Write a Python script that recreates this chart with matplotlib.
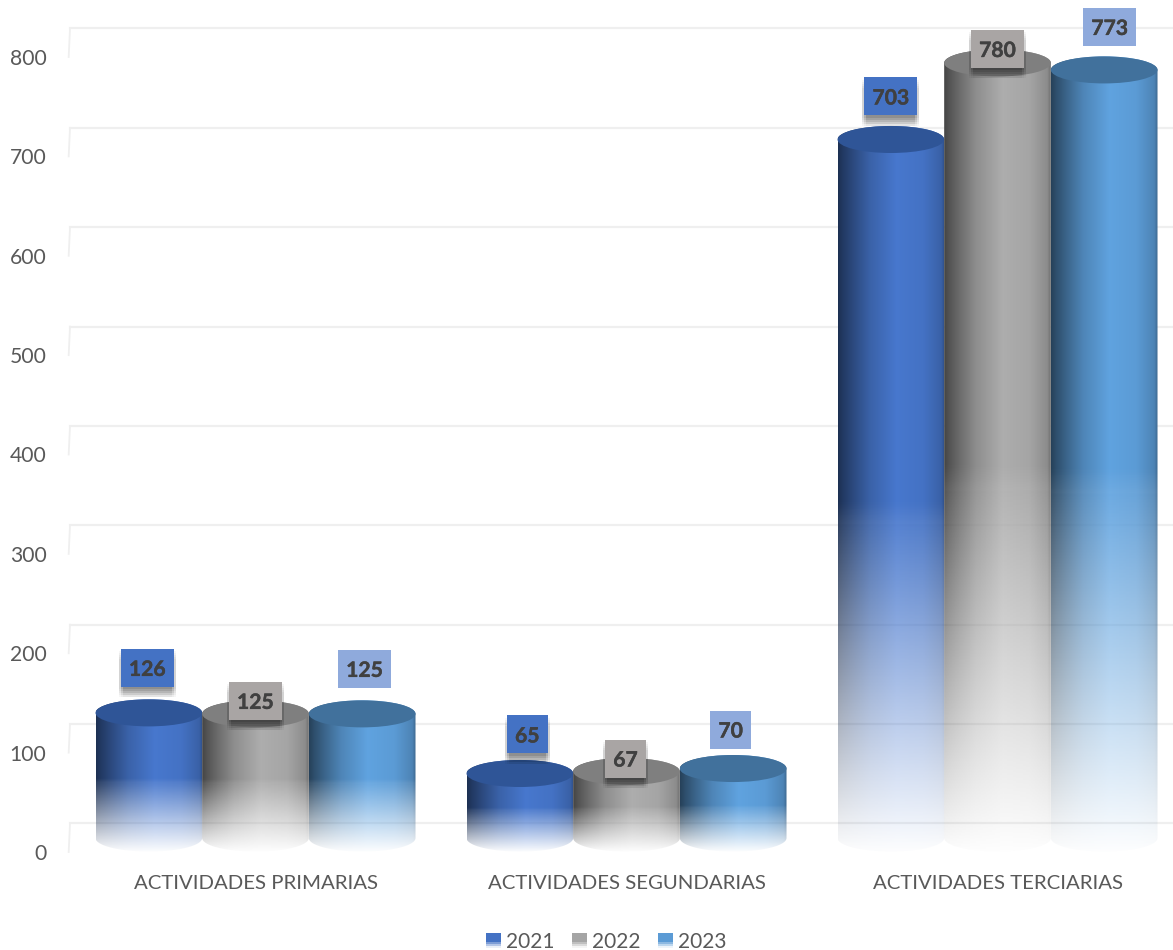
import numpy as np
import matplotlib
matplotlib.use("Agg")
import matplotlib.pyplot as plt
import matplotlib.patheffects as pe
from matplotlib.colors import to_rgb
from matplotlib.legend_handler import HandlerBase
from matplotlib.patches import Ellipse, PathPatch, Rectangle
from matplotlib.path import Path

plt.rcParams["font.family"] = ["Lato", "DejaVu Sans"]

categories = ["ACTIVIDADES PRIMARIAS", "ACTIVIDADES SEGUNDARIAS", "ACTIVIDADES TERCIARIAS"]
years = ["2021", "2022", "2023"]
values_2021 = [126, 65, 703]
values_2022 = [125, 67, 780]
values_2023 = [125, 70, 773]
y_ticks = [0, 100, 200, 300, 400, 500, 600, 700, 800]

# styling
side_colors = ["#4472C4", "#A5A5A5", "#5B9BD5"]
top_colors = ["#2F5597", "#7F7F7F", "#41719C"]
label_colors = ["#4472C4", "#A9A5A4", "#8FAADC"]
# hand placed labels, pixels from the top of each bar (dx, dy), per series
label_nudges = [
    [(-1.5, 45), (7.5, 39), (0, 43)],
    [(0, 13), (-1, 13), (0, 14)],
    [(2.5, 45), (-2.5, 39), (5.5, 43)],
]

W, H = 1173, 950
PX = 0.99375        # pixels per unit on y
GROUP_PX = 371      # pixels per category on x
FLOOR = 14          # cylinders stand this far above the zero line
WALL = 28.7         # gridlines sit this far above their tick
MINOR = 13.6        # half height of the cylinder ellipses
BAR_W = 0.2875

fig = plt.figure(figsize=(W / 100, H / 100), dpi=100)
ax = fig.add_axes([70 / W, (H - 852) / H, (W - 70) / W, 852 / H])
ax.set_xlim(-0.5, 2.473)
ax.set_ylim(0, 852 / PX)


def side_gradient(color):
    # dark on the left, lit a bit right of the middle
    xs = np.linspace(0, 1, 128)
    shade = np.interp(xs, [0, .04, .15, .3, .55, .8, .97, 1],
                      [.42, .5, .66, .86, 1.05, 1, .85, .68])
    return np.clip(np.outer(shade, to_rgb(color)), 0, 1)


def draw_cylinder(x, value, color, top_color, z):
    left, right = x - BAR_W / 2, x + BAR_W / 2
    top = value + FLOOR
    t = np.linspace(np.pi, 0, 50)
    up_x = x + BAR_W / 2 * np.cos(t)
    up_y = top + MINOR * np.sin(t)
    low_x = up_x[::-1]
    low_y = FLOOR - MINOR * np.sin(t)
    outline = np.column_stack([np.r_[up_x, low_x], np.r_[up_y, low_y]])
    clip = PathPatch(Path(outline), transform=ax.transData, fc="none", ec="none")
    ax.add_patch(clip)

    # rgba picture: colour goes across, fade goes down
    rows = 300
    rgb = side_gradient(color)
    img = np.ones((rows, rgb.shape[0], 4))
    img[:, :, :3] = rgb[None, :, :]
    f = np.linspace(0, 1, rows)
    g = np.clip((f - 0.55) / 0.45, 0, 1)
    alpha = np.where(f < 0.52, 1.0, np.where(f < 0.55, 1 - (f - 0.52) / 0.03 * 0.1,
                                             0.9 * (1 - g) + 0.015))
    img[:, :, 3] = alpha[:, None]
    im = ax.imshow(img, extent=(left, right, FLOOR - MINOR, top + MINOR), aspect="auto",
                   interpolation="bilinear", zorder=z)
    im.set_clip_path(clip)
    ax.add_patch(Ellipse((x, top), BAR_W, 2 * MINOR, fc=top_color, ec="none", zorder=z + 0.1))


class FadeHandler(HandlerBase):
    # legend swatch that fades out at the bottom like the bars
    def create_artists(self, legend, orig, xd, yd, width, height, fontsize, trans):
        out = []
        n = 8
        for i in range(n):
            a = min(1.0, 0.1 + i * 0.3)
            r = Rectangle((xd * -1, -yd + height * i / n), width, height / n,
                          fc=orig.get_facecolor(), ec="none", alpha=a, transform=trans)
            out.append(r)
        return out


# gridlines and the little wall ticks at the left
for tick in y_ticks:
    ax.plot([0, 1], [tick + WALL, tick + WALL], transform=ax.get_yaxis_transform(),
            color="#EFEFEF", lw=1.6, zorder=1, clip_on=False)
    ax.plot([0, -0.0012], [tick + WALL, tick], transform=ax.get_yaxis_transform(),
            color="#EFEFEF", lw=1.3, zorder=1, clip_on=False)

series = [values_2021, values_2022, values_2023]
offsets = [-BAR_W, 0, BAR_W]
for s, vals in enumerate(series):
    for c, v in enumerate(vals):
        x = c + offsets[s]
        draw_cylinder(x, v, side_colors[s], top_colors[s], 2 + s)
        dx, dy = label_nudges[s][c]
        # box is drawn on its own so the digits can sit centred in it
        box_w = (41 if v < 100 else 53) / GROUP_PX
        box_h = 38 / PX
        cx = x + dx / GROUP_PX
        cy = v + FLOOR + dy / PX
        box = Rectangle((cx - box_w / 2, cy - box_h / 2), box_w, box_h,
                        fc=label_colors[s], ec="none", zorder=10)
        if s < 2:
            shadow = [pe.SimplePatchShadow(offset=(ox, oy), shadow_rgbFace="#000000", alpha=0.035)
                      for ox in (-1.5, 0, 1.5) for oy in (-1.5, -3, -4.5, -6, -7.5)]
            box.set_path_effects(shadow + [pe.Normal()])
        ax.add_patch(box)
        ax.text(cx, cy, str(v), ha="center", va="center_baseline", fontsize=15.2, fontweight="bold",
                color="#404040", zorder=11,
                path_effects=[pe.withStroke(linewidth=0.3, foreground="#404040")])

ax.set_xticks(range(len(categories)))
ax.set_xticklabels(categories, fontsize=14.65, color="#595959")
ax.set_yticks(y_ticks)
ax.tick_params(axis="x", length=0, pad=16.5)
ax.tick_params(axis="y", length=0, pad=17, labelsize=15.2, labelcolor="#595959")
for sp in ax.spines.values():
    sp.set_visible(False)

handles = [Rectangle((0, 0), 1, 1, fc=c) for c in side_colors]
fig.legend(handles, years, handler_map={Rectangle: FadeHandler()}, loc="lower center",
           bbox_to_anchor=(606 / W, -0.017), ncols=3, frameon=False, fontsize=15,
           labelcolor="#595959", handlelength=0.75, handleheight=0.72, handletextpad=0.2,
           columnspacing=0.85, borderpad=0.2)

fig.savefig("out.png", dpi=100)
